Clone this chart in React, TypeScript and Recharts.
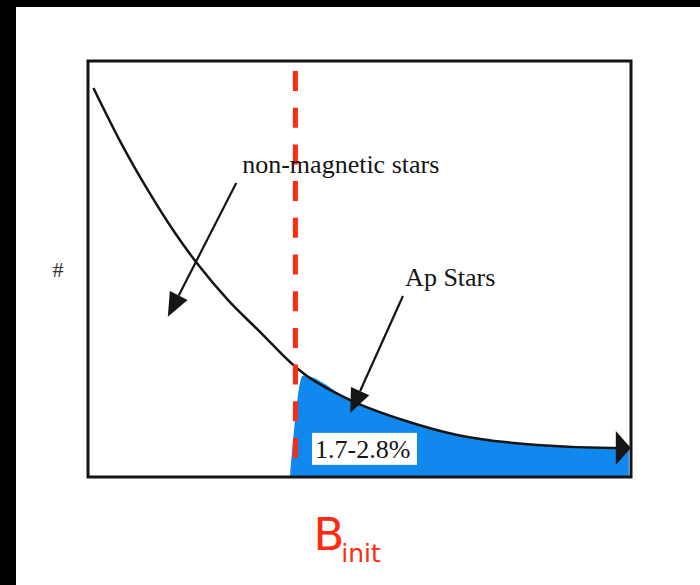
import React from "react";
import {
  ComposedChart,
  Line,
  Area,
  XAxis,
  YAxis,
  ReferenceLine,
  ReferenceArea,
  ReferenceDot,
} from "recharts";

// field strength (arbitrary units, 0-100) and star counts (0-100)
const fieldB = [1, 6, 11, 16, 20.3, 25.8, 31.9, 37.2, 37.4, 39.6, 48.3, 58, 68, 82.7, 96.7, 99.6];
const nonMagnetic = [93.5, 80.5, 69.0, 58.7, 51.0, 42.5, 34.6, null, 27.4, 25.0, 18.5, 13.7, 10.1, 7.7, 7.0, 7.0];
const apStars = [null, null, null, null, null, null, null, 0, null, 24.4, 18.5, 13.7, 10.1, 7.7, 7.0, 7.0];

const B_INIT = 38.2;
const apFraction = "1.7-2.8%";

const rows = fieldB.map((b, i) => ({ b, nonMag: nonMagnetic[i], ap: apStars[i] }));

const INK = "#151515";
const RED = "#ff2a12";
const BLUE = "#1188ee";
const SERIF = "'Liberation Serif', 'Times New Roman', serif";

function Arrow(props: any) {
  const { x1, y1, x2, y2 } = props;
  const head = 24;
  const half = 10;
  const dx = x2 - x1;
  const dy = y2 - y1;
  const len = Math.hypot(dx, dy) || 1;
  const ux = dx / len;
  const uy = dy / len;
  const bx = x2 - ux * head;
  const by = y2 - uy * head;
  const px = -uy * half;
  const py = ux * half;
  return (
    <g>
      <line x1={x1} y1={y1} x2={bx} y2={by} stroke={INK} strokeWidth={2.2} />
      <polygon points={`${x2},${y2} ${bx + px},${by + py} ${bx - px},${by - py}`} fill={INK} />
    </g>
  );
}

function EndDot(props: any) {
  const { cx, cy, index } = props;
  if (index !== rows.length - 1) return <g key={`d${index}`} />;
  return (
    <polygon
      key={`d${index}`}
      points={`${cx + 2},${cy} ${cx - 13},${cy - 17} ${cx - 13},${cy + 17}`}
      fill={INK}
    />
  );
}

const serifText = (txt: string) => (p: any) => (
  <text x={p.cx} y={p.cy} fontFamily={SERIF} fontSize={26} fill={INK}>
    {txt}
  </text>
);

const hashLabel = (p: any) => {
  const vb = p.viewBox;
  return (
    <text
      x={vb.x + vb.width / 2}
      y={vb.y + vb.height / 2 + 8}
      textAnchor="middle"
      fontFamily={SERIF}
      fontSize={22}
      fill="#333"
    >
      #
    </text>
  );
};

export default function App() {
  return (
    <div style={{ position: "absolute", left: 0, top: 0, width: 700, height: 585, background: "#000" }}>
      <div style={{ position: "absolute", left: 16, top: 7, width: 684, height: 578, background: "#fff" }}>
        <ComposedChart
          width={684}
          height={578}
          data={rows}
          margin={{ top: 54, right: 69, left: 12, bottom: 8 }}
        >
          <XAxis
            dataKey="b"
            type="number"
            domain={[0, 100]}
            tick={false}
            tickLine={false}
            axisLine={false}
            height={100}
          />
          <YAxis
            type="number"
            domain={[0, 100]}
            tick={false}
            tickLine={false}
            axisLine={false}
            width={60}
            label={{ position: "center", content: hashLabel }}
          />
          <Area
            dataKey="ap"
            type="monotone"
            stroke="none"
            fill={BLUE}
            fillOpacity={1}
            connectNulls
            isAnimationActive={false}
          />
          <Line
            dataKey="nonMag"
            type="monotone"
            stroke={INK}
            strokeWidth={2.5}
            dot={EndDot}
            activeDot={false}
            connectNulls
            isAnimationActive={false}
          />
          <ReferenceArea x1={0} x2={100} y1={0} y2={100} fill="none" stroke={INK} strokeWidth={3} />
          <ReferenceLine
            segment={[{ x: B_INIT, y: 97.6 }, { x: B_INIT, y: 4.1 }]}
            stroke={RED}
            strokeWidth={5}
            strokeDasharray="20 16.7"
          />
          <ReferenceLine
            segment={[{ x: 27.3, y: 70.7 }, { x: 14.7, y: 38.5 }]}
            shape={(p: any) => <Arrow {...p} />}
          />
          <ReferenceLine
            segment={[{ x: 58.0, y: 43.5 }, { x: 48.3, y: 15.4 }]}
            shape={(p: any) => <Arrow {...p} />}
          />
          <ReferenceDot x={28.4} y={73.1} r={1} ifOverflow="visible" shape={serifText("non-magnetic stars")} />
          <ReferenceDot x={58.4} y={45.9} r={1} ifOverflow="visible" shape={serifText("Ap Stars")} />
          <ReferenceDot
            x={41.8}
            y={4.6}
            r={1}
            ifOverflow="visible"
            shape={(p: any) => (
              <g>
                <rect x={p.cx - 3} y={p.cy - 25} width={105} height={32} fill="#fff" />
                <text x={p.cx} y={p.cy} fontFamily={SERIF} fontSize={26} fill={INK}>
                  {apFraction}
                </text>
              </g>
            )}
          />
          <ReferenceDot
            x={B_INIT}
            y={0}
            r={1}
            ifOverflow="visible"
            shape={(p: any) => (
              <text x={p.cx + 18} y={p.cy + 73} fontFamily="'DejaVu Sans', sans-serif" fontSize={45} fill={RED}>
                B
                <tspan dx={-3} dy={12} fontSize={25}>
                  init
                </tspan>
              </text>
            )}
          />
        </ComposedChart>
      </div>
    </div>
  );
}
